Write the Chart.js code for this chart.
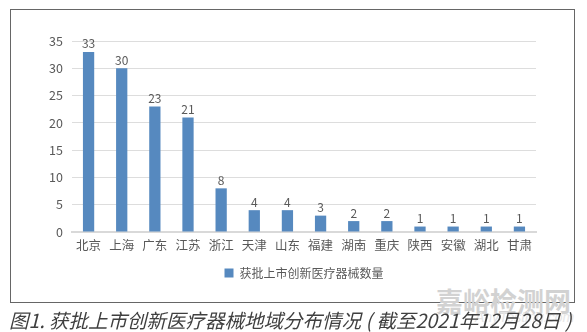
<!DOCTYPE html>
<html><head><meta charset="utf-8">
<script src="https://cdn.jsdelivr.net/npm/chart.js@4/dist/chart.umd.min.js"></script>
<style>
html,body{margin:0;padding:0;background:#fff;width:587px;height:332px;overflow:hidden;}
#frame{position:absolute;left:10px;top:9px;width:563px;height:292px;border:1.5px solid #666;}
#wrap{position:absolute;left:0;top:0;width:587px;height:332px;}
#cap{position:absolute;left:9px;top:308px;font-family:"Noto Sans CJK SC","Noto Sans",sans-serif;font-style:italic;font-size:19.5px;color:#3f3f3f;white-space:nowrap;line-height:24px;}
#wm{position:absolute;left:436px;top:286px;font-family:"Noto Sans CJK SC",sans-serif;font-weight:bold;font-size:27px;color:#d2d2d2;white-space:nowrap;line-height:30px;}
#wm2{position:absolute;left:475px;top:309px;font-family:"Liberation Sans",sans-serif;font-style:italic;font-size:14px;color:#e6e6e6;white-space:nowrap;}
</style></head>
<body>
<div id="frame"></div>
<div id="wm">嘉峪检测网</div>
<div id="wm2">AnyTesting.com</div>
<div id="wrap"><canvas id="c" width="587" height="332"></canvas></div>
<div id="cap">图1. 获批上市创新医疗器械地域分布情况 ( 截至2021年12月28日 )</div>
<script>
const categories = ["北京","上海","广东","江苏","浙江","天津","山东","福建","湖南","重庆","陕西","安徽","湖北","甘肃"];
const values = [33,30,23,21,8,4,4,3,2,2,1,1,1,1];
const seriesName = "获批上市创新医疗器械数量";
const yTicks = [0,5,10,15,20,25,30,35];

const FONT = '"Noto Sans CJK SC","Noto Sans",sans-serif';
const valueLabels = {
  id:'valueLabels',
  afterDatasetsDraw(chart){
    const ctx = chart.ctx;
    const meta = chart.getDatasetMeta(0);
    ctx.save();
    ctx.font = '12px ' + FONT;
    ctx.fillStyle = '#595959';
    ctx.textAlign = 'center';
    ctx.textBaseline = 'bottom';
    meta.data.forEach((bar,i)=>{
      ctx.fillText(String(values[i]), bar.x, bar.y - 2);
    });
    ctx.restore();
  }
};

new Chart(document.getElementById('c'), {
  type:'bar',
  data:{labels:categories, datasets:[{label:seriesName, data:values, backgroundColor:'#5689BF', barPercentage:0.34, categoryPercentage:1}]},
  options:{
    responsive:false, animation:false,
    layout:{padding:{left:40,right:51,top:41,bottom:43}},
    plugins:{
      legend:{position:'bottom', fullSize:false,
        labels:{boxWidth:9, boxHeight:9, padding:10, color:'#595959', font:{family:FONT,size:12}}},
      tooltip:{enabled:false}
    },
    scales:{
      x:{grid:{display:false, drawTicks:false}, border:{display:true,color:'#D9D9D9',width:2},
         ticks:{color:'#595959', padding:6, font:{family:FONT,size:12.5}, maxRotation:0, autoSkip:false},
         afterFit(s){s.height=25;}},
      y:{min:0,max:35, grid:{color:'#DDDDDD', drawTicks:false, lineWidth:1}, border:{display:false},
         afterBuildTicks(s){s.ticks = yTicks.map(v=>({value:v}));},
         ticks:{color:'#595959', padding:9, font:{family:FONT,size:12.5}},
         afterFit(s){s.width=32;}}
    }
  },
  plugins:[valueLabels]
});
</script>
</body></html>
